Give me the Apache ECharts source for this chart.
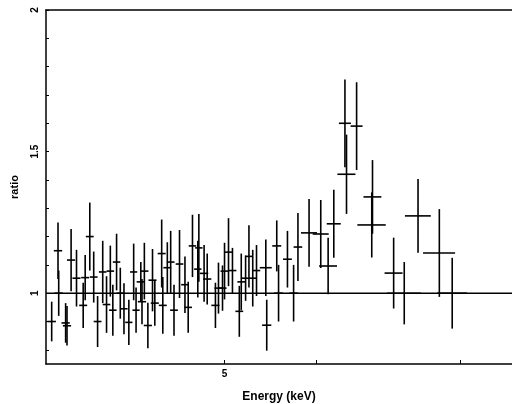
<!DOCTYPE html>
<html>
<head>
<meta charset="utf-8">
<title>ratio</title>
<script src="https://cdn.jsdelivr.net/npm/echarts@6/dist/echarts.min.js"></script>
<style>
html, body { margin: 0; padding: 0; background: #fff; }
#chart { width: 512px; height: 404px; }
</style>
</head>
<body>
<div id="chart"></div>
<script type="text/javascript">
// bin centres and half widths (keV)
var energy = [3.54, 3.585, 3.59, 3.64, 3.65, 3.68, 3.72, 3.77, 3.785, 3.82,
    3.85, 3.88, 3.92, 3.95, 3.98, 4.00, 4.03, 4.06, 4.09, 4.13,
    4.17, 4.19, 4.23, 4.24, 4.26, 4.29, 4.33, 4.35, 4.41, 4.42,
    4.46, 4.49, 4.52, 4.57, 4.62, 4.65, 4.69, 4.74, 4.75, 4.80,
    4.83, 4.91, 4.94, 4.98, 5.00, 5.04, 5.08, 5.17, 5.15, 5.25,
    5.215, 5.29, 5.33, 5.43, 5.44, 5.55, 5.57, 5.67, 5.74, 5.79,
    5.92, 6.06, 6.15, 6.22, 6.36, 6.38, 6.51, 6.71, 6.72, 7.01,
    7.16, 7.36, 7.68, 7.88];
var energyErr = [0.03, 0.03, 0.03, 0.03, 0.03, 0.03, 0.03, 0.03, 0.03, 0.03,
    0.03, 0.03, 0.03, 0.03, 0.03, 0.03, 0.03, 0.03, 0.03, 0.03,
    0.03, 0.03, 0.035, 0.035, 0.035, 0.035, 0.035, 0.035, 0.035, 0.035,
    0.035, 0.035, 0.035, 0.035, 0.035, 0.035, 0.035, 0.035, 0.035, 0.04,
    0.04, 0.04, 0.04, 0.04, 0.04, 0.04, 0.04, 0.04, 0.04, 0.04,
    0.04, 0.04, 0.04, 0.065, 0.05, 0.05, 0.05, 0.05, 0.05, 0.05,
    0.095, 0.097, 0.11, 0.087, 0.076, 0.115, 0.078, 0.19, 0.12, 0.126,
    0.243, 0.19, 0.246, 0.236];
// data / model ratio and its 1 sigma error
var ratio = [0.90, 1.15, 1.00, 0.895, 0.885, 1.117, 1.053, 0.957, 1.055, 1.20,
    1.057, 0.90, 1.075, 0.96, 1.078, 0.94, 1.11, 1.00, 0.945, 0.897,
    1.075, 0.94, 1.04, 0.97, 1.078, 0.886, 1.046, 0.965, 1.14, 0.957,
    1.09, 1.11, 0.94, 1.103, 1.03, 0.95, 1.167, 1.085, 1.16, 1.07,
    1.05, 0.957, 1.018, 1.018, 1.078, 1.145, 1.08, 1.04, 0.936, 1.13,
    1.053, 1.053, 1.08, 1.09, 0.887, 1.167, 1.00, 1.12, 1.00, 1.163,
    1.213, 1.209, 1.096, 1.245, 1.60, 1.42, 1.59, 1.241, 1.34, 1.071,
    1.00, 1.273, 1.142, 1.00];
var ratioErr = [0.07, 0.10, 0.08, 0.07, 0.07, 0.11, 0.10, 0.08, 0.08, 0.12,
    0.09, 0.09, 0.11, 0.10, 0.09, 0.09, 0.10, 0.09, 0.09, 0.08,
    0.10, 0.08, 0.07, 0.08, 0.10, 0.08, 0.11, 0.08, 0.12, 0.10,
    0.09, 0.11, 0.09, 0.12, 0.10, 0.09, 0.11, 0.10, 0.12, 0.10,
    0.09, 0.08, 0.09, 0.08, 0.10, 0.12, 0.08, 0.10, 0.09, 0.11,
    0.08, 0.10, 0.09, 0.10, 0.09, 0.09, 0.10, 0.10, 0.10, 0.12,
    0.12, 0.12, 0.10, 0.12, 0.155, 0.14, 0.155, 0.115, 0.13, 0.125,
    0.11, 0.13, 0.155, 0.125];
var modelEnergy = [3.5, 8.88];
var modelRatio = [1, 1];
var xTickLabels = [5];
var xTicks = [5, 6, 8];
var yTickLabels = [1, 1.5, 2];
var yTicks = [0.8, 0.9, 1, 1.1, 1.2, 1.3, 1.4, 1.5, 1.6, 1.7, 1.8, 1.9, 2];

var points = [];
for (var i = 0; i < energy.length; i++) {
    points.push([energy[i], energyErr[i], ratio[i], ratioErr[i]]);
}
var model = [];
for (var j = 0; j < modelEnergy.length; j++) {
    model.push([modelEnergy[j], modelRatio[j]]);
}

function renderCross(params, api) {
    var e = api.value(0), de = api.value(1), r = api.value(2), dr = api.value(3);
    var a = api.coord([e - de, r]), b = api.coord([e + de, r]);
    var c = api.coord([e, r - dr]), d = api.coord([e, r + dr]);
    var style = { stroke: '#000', lineWidth: 1.6 };
    return {
        type: 'group',
        children: [
            { type: 'line', shape: { x1: a[0], y1: a[1], x2: b[0], y2: b[1] }, style: style },
            { type: 'line', shape: { x1: c[0], y1: c[1], x2: d[0], y2: d[1] }, style: style }
        ]
    };
}

var labelFont = { color: '#000', fontFamily: 'Liberation Sans', fontWeight: 'bold', fontSize: 10 };

var option = {
    animation: false,
    grid: { left: 46, right: 0, top: 10, bottom: 40, containLabel: false, outerBoundsMode: 'none' },
    xAxis: [{
        type: 'log',
        min: 3.5,
        max: 8.88,
        position: 'bottom',
        name: 'Energy (keV)',
        nameLocation: 'middle',
        nameGap: 27,
        nameTextStyle: { color: '#000', fontFamily: 'Liberation Sans', fontWeight: 'bold', fontSize: 12 },
        axisLine: { lineStyle: { color: '#000', width: 1.5 } },
        axisTick: { inside: true, length: 4, customValues: xTicks, lineStyle: { color: '#000' } },
        axisLabel: Object.assign({ customValues: xTickLabels, margin: 5 }, labelFont),
        splitLine: { show: false },
        minorTick: { show: false }
    }, {
        type: 'log',
        min: 3.5,
        max: 8.88,
        position: 'top',
        axisLine: { lineStyle: { color: '#000', width: 1.5 } },
        axisTick: { show: false },
        axisLabel: { show: false },
        splitLine: { show: false }
    }],
    yAxis: {
        type: 'value',
        min: 0.75,
        max: 2,
        name: 'ratio',
        nameLocation: 'middle',
        nameGap: 26,
        nameRotate: 90,
        nameTextStyle: { color: '#000', fontFamily: 'Liberation Sans', fontWeight: 'bold', fontSize: 11 },
        axisLine: { show: true, lineStyle: { color: '#000', width: 1.5 } },
        axisTick: { inside: true, length: 3, customValues: yTicks, lineStyle: { color: '#000' } },
        axisLabel: Object.assign({ customValues: yTickLabels, rotate: 90, margin: 6 }, labelFont),
        splitLine: { show: false }
    },
    series: [{
        type: 'line',
        data: model,
        symbol: 'none',
        lineStyle: { color: '#000', width: 1.5 },
        silent: true
    }, {
        type: 'custom',
        renderItem: renderCross,
        encode: { x: 0, y: 2 },
        data: points,
        clip: true
    }]
};

var myChart = echarts.init(document.getElementById('chart'));
myChart.setOption(option, true);
</script>
</body>
</html>
